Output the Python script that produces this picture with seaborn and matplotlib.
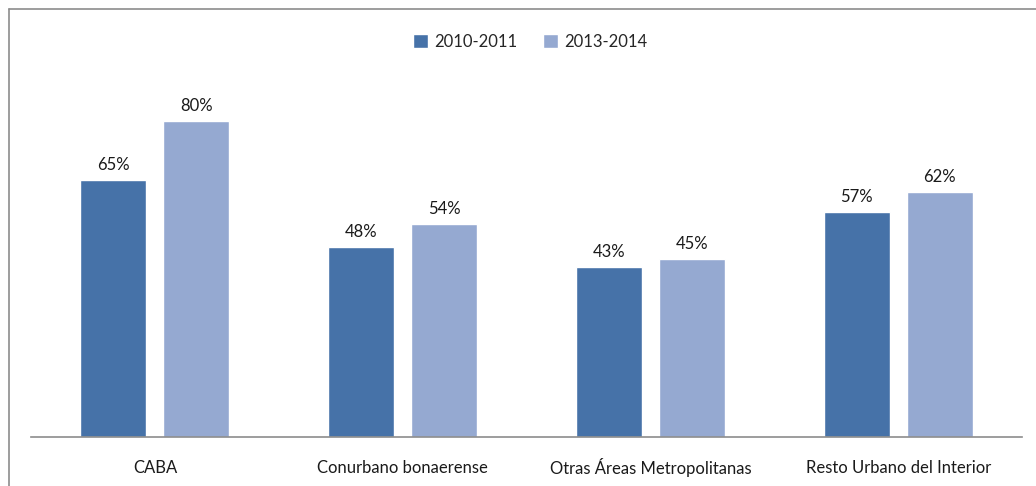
import pandas as pd
import matplotlib
matplotlib.use("Agg")
import matplotlib.pyplot as plt
import seaborn as sns
from matplotlib.lines import Line2D

regiones = ["CABA", "Conurbano bonaerense", "Otras Áreas Metropolitanas", "Resto Urbano del Interior"]
periodos = ["2010-2011", "2013-2014"]
val_2010 = [65, 48, 43, 57]
val_2013 = [80, 54, 45, 62]
colores = ["#4672A8", "#95A9D1"]

df = pd.DataFrame({
    "region": regiones * 2,
    "periodo": [periodos[0]] * 4 + [periodos[1]] * 4,
    "valor": val_2010 + val_2013,
})

sns.set_style("white")
plt.rcParams["font.family"] = ["Lato", "DejaVu Sans"]

fig = plt.figure(figsize=(10.36, 4.86), dpi=100)
ax = fig.add_axes([31 / 1036, 1 - 437 / 486, 991 / 1036, 395 / 486])

sns.barplot(data=df, x="region", y="valor", hue="periodo", palette=colores,
            width=0.67, gap=0.206, ax=ax, saturation=1, legend=True)

for cont in ax.containers:
    ax.bar_label(cont, fmt="%.0f%%", padding=5, fontsize=12, color="#1a1a1a")

ax.set_ylim(0, 100)
ax.set_xlim(-0.5, 3.5)
ax.set_xlabel("")
ax.set_ylabel("")
ax.set_yticks([])
ax.tick_params(axis="x", length=0, pad=22, labelsize=12, labelcolor="#1a1a1a")
for lbl in ax.get_xticklabels():
    lbl.set_verticalalignment("center")
for s in ["top", "left", "right"]:
    ax.spines[s].set_visible(False)
ax.spines["bottom"].set_color("#8c8c8c")
ax.spines["bottom"].set_linewidth(1.2)

ax.legend(loc="center", bbox_to_anchor=(530 / 1036, 1 - 42 / 486), bbox_transform=fig.transFigure,
          ncol=2, frameon=False, fontsize=12, handlelength=0.9, handleheight=0.9,
          handletextpad=0.4, columnspacing=1.5)

# outer frame (partly cut off in the original)
fig.add_artist(Line2D([9 / 1036, 9 / 1036], [0, 1 - 9 / 486], transform=fig.transFigure,
                      color="#8c8c8c", lw=1.2))
fig.add_artist(Line2D([9 / 1036, 1], [1 - 9 / 486, 1 - 9 / 486], transform=fig.transFigure,
                      color="#8c8c8c", lw=1.2))

fig.savefig("out.png", dpi=100)
